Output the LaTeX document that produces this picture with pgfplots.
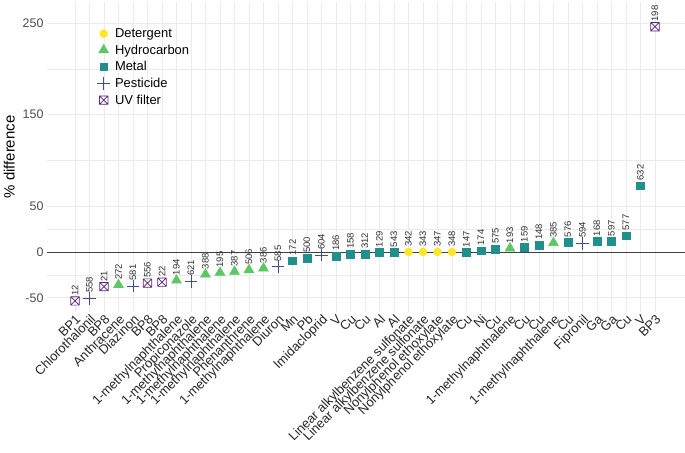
\documentclass[border=0pt]{standalone}
\usepackage{fontspec}
\setmainfont{Liberation Sans}
\usepackage{pgfplots}
\pgfplotsset{compat=1.18}
\definecolor{cDet}{HTML}{FDE725}
\definecolor{cHyd}{HTML}{5DC863}
\definecolor{cMet}{HTML}{21908C}
\definecolor{cPes}{HTML}{3B528B}
\definecolor{cUV}{HTML}{5A2375}
\definecolor{gridc}{HTML}{EBEBEB}
\definecolor{txtg}{HTML}{4D4D4D}
\pgfdeclareplotmark{sqx}{%
  \pgfpathrectangle{\pgfpoint{-\pgfplotmarksize}{-\pgfplotmarksize}}{\pgfpoint{2\pgfplotmarksize}{2\pgfplotmarksize}}%
  \pgfpathmoveto{\pgfpoint{-\pgfplotmarksize}{-\pgfplotmarksize}}%
  \pgfpathlineto{\pgfpoint{\pgfplotmarksize}{\pgfplotmarksize}}%
  \pgfpathmoveto{\pgfpoint{-\pgfplotmarksize}{\pgfplotmarksize}}%
  \pgfpathlineto{\pgfpoint{\pgfplotmarksize}{-\pgfplotmarksize}}%
  \pgfusepathqstroke}
\begin{document}
\begin{tikzpicture}
\useasboundingbox (0,0) rectangle (685bp,453bp);
\begin{axis}[
  at={(47bp,141bp)}, anchor=south west,
  scale only axis, width=638bp, height=310bp,
  xmin=-0.93, xmax=43.07, ymin=-65.6, ymax=273,
  clip=false,
  axis line style={draw=none},
  tick style={draw=none},
  xtick={1,...,41},
  xticklabels={BP1,Chlorothalonil,BP8,Anthracene,Diazinon,BP8,BP8,1-methylnaphthalene,Propiconazole,1-methylnaphthalene,1-methylnaphthalene,1-methylnaphthalene,Phenanthrene,1-methylnaphthalene,Diuron,Mn,Pb,Imidacloprid,V,Cu,Cu,Al,Al,Linear alkylbenzene sulfonate,Linear alkylbenzene sulfonate,Nonylphenol ethoxylate,Nonylphenol ethoxylate,Cu,Ni,Cu,1-methylnaphthalene,Cu,Cu,1-methylnaphthalene,Cu,Fipronil,Ga,Ga,Cu,V,BP3},
  x tick label style={rotate=45, anchor=north east, font=\fontsize{13}{14}\selectfont, text=black!85, inner sep=1bp},
  ytick={-50,0,50,150,250},
  minor ytick={-25,25,100,200},
  y tick label style={font=\fontsize{12.5}{14}\selectfont, text=txtg},
  /pgf/number format/assume math mode=true,
  xmajorgrids, ymajorgrids, yminorgrids,
  major grid style={gridc, line width=0.6bp},
  minor grid style={gridc, line width=0.4bp},
  ylabel={\% difference},
  ylabel style={font=\fontsize{15}{17}\selectfont, yshift=1bp},
  point meta=explicit symbolic,
  nodes near coords,
  nodes near coords style={rotate=90, anchor=west, inner xsep=5bp, inner ysep=0bp, font=\fontsize{9.5}{10}\selectfont, text=black!80},
  legend style={at={(0.074,0.925)}, anchor=north west, draw=none, fill=none,
    font=\fontsize{13}{15}\selectfont, row sep=3.8bp,
    nodes={inner sep=1bp},
    /tikz/every odd column/.append style={column sep=4bp}},
  legend cell align=left,
]
\draw[black!75, line width=0.8bp] (axis cs:-0.93,0) -- (axis cs:43.07,0);
\addplot[only marks, mark=*, mark size=4bp, color=cDet] coordinates {
(24,0) [342] (25,0) [343] (26,0) [347] (27,0) [348]};
\addlegendentry{Detergent}
\addplot[only marks, mark=triangle*, mark size=5.8bp, color=cHyd] coordinates {
(4,-36) [272] (8,-31) [194] (10,-24.4) [388] (11,-22.6) [195] (12,-21.5) [387] (13,-19.7) [506] (14,-17.9) [386] (31,4) [193] (34,10) [385]};
\addlegendentry{Hydrocarbon}
\addplot[only marks, mark=square*, mark size=3.8bp, color=cMet] coordinates {
(16,-9.5) [172] (17,-6.6) [500] (19,-4.4) [186] (20,-2.2) [158] (21,-2.2) [312] (22,-0.4) [129] (23,-0.4) [543] (28,-0.5) [147] (29,1.5) [174] (30,3) [575] (32,5) [159] (33,7.6) [148] (35,10.5) [576] (37,11.7) [168] (38,11.7) [597] (39,17.8) [577] (40,72.5) [632]};
\addlegendentry{Metal}
\addplot[only marks, mark=+, mark size=6.3bp, color=cPes, mark options={line width=0.6bp}] coordinates {
(2,-50.6) [558] (5,-37) [581] (9,-32) [621] (15,-16) [585] (18,-3.3) [604] (36,9.5) [594]};
\addlegendentry{Pesticide}
\addplot[only marks, mark=sqx, mark size=4.2bp, color=cUV, mark options={line width=0.7bp}] coordinates {
(1,-53.5) [12] (3,-37.9) [21] (6,-34) [556] (7,-33) [22] (41,246) [198]};
\addlegendentry{UV filter}
\end{axis}
\end{tikzpicture}
\end{document}
